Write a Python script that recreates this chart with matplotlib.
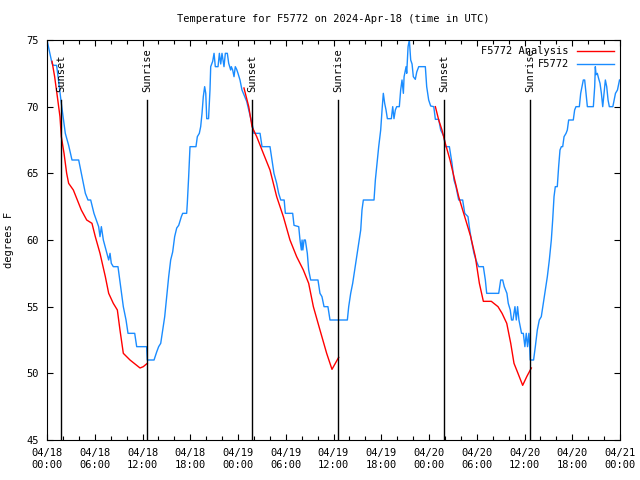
import matplotlib
matplotlib.use('Agg')

import matplotlib.pyplot as plt
import matplotlib.dates as mdates
import numpy as np
from datetime import datetime, timedelta

# hours since 2024-04-18 00:00 UTC
obs_hours = [0.0, 0.63, 0.8, 1.21, 1.8, 2.3, 2.72, 3.14, 3.98, 4.4, 4.82, 5.15, 5.49, 5.9, 6.49,
             6.66, 6.83, 7.08, 7.41, 7.75, 7.92, 8.08, 8.33, 8.92, 9.26, 9.59, 9.93, 10.18, 11.02,
             11.27, 12.52, 12.6, 13.45, 13.78, 14.03, 14.29, 14.54, 14.79, 15.04, 15.29, 15.54,
             15.79, 16.04, 16.3, 16.55, 16.88, 17.05, 17.55, 17.63, 17.8, 17.97, 18.72, 18.89,
             19.14, 19.31, 19.48, 19.64, 19.81, 19.95, 20.07, 20.3, 20.48, 20.57, 20.82, 20.99,
             21.15, 21.49, 21.66, 21.83, 21.99, 22.24, 22.41, 22.66, 22.83, 23.08, 23.16, 23.33,
             23.5, 23.66, 23.83, 24.0, 24.25, 24.5, 24.84, 25.09, 25.35, 25.6, 25.85, 26.0, 26.77,
             27.02, 28.02, 28.27, 28.52, 28.86, 29.11, 29.37, 29.8, 29.95, 30.87, 31.04, 31.63,
             31.79, 31.96, 32.05, 32.15, 32.3, 32.46, 32.71, 32.88, 33.13, 34.05, 34.3, 34.55,
             34.81, 35.3, 35.56, 37.74, 37.91, 38.16, 38.41, 38.66, 38.92, 39.17, 39.42, 39.58,
             39.75, 41.09, 41.26, 41.43, 41.68, 41.93, 42.1, 42.26, 42.43, 42.6, 42.77, 43.27,
             43.44, 43.6, 43.77, 43.94, 44.27, 44.44, 44.61, 44.78, 44.87, 45.12, 45.2, 45.37,
             45.53, 45.7, 45.87, 46.03, 46.28, 46.46, 46.71, 47.54, 47.71, 47.96, 48.21, 48.6,
             48.8, 49.22, 49.47, 49.88, 50.05, 50.56, 50.89, 51.14, 51.39, 51.73, 52.23, 52.49,
             52.9, 53.06, 53.32, 53.65, 53.9, 54.24, 54.83, 55.08, 55.25, 56.76, 57.01, 57.26,
             57.46, 57.79, 57.96, 58.21, 58.37, 58.55, 58.8, 58.97, 59.13, 59.3, 59.63, 59.85,
             60.05, 60.22, 60.38, 60.55, 60.63, 60.72, 61.14, 61.36, 61.61, 61.86, 62.11, 62.36,
             62.62, 62.87, 63.12, 63.37, 63.54, 63.71, 63.87, 64.12, 64.29, 64.46, 64.63, 64.8,
             64.97, 65.22, 65.38, 65.55, 66.13, 66.3, 66.47, 66.89, 67.06, 67.23, 67.39, 67.56,
             67.73, 67.9, 68.65, 68.82, 68.9, 68.99, 69.15, 69.32, 69.49, 69.66, 69.83, 70.0,
             70.16, 70.33, 70.5, 70.66, 71.1, 71.27, 71.43, 71.68, 71.94]
obs_temp = [75.0, 73.25, 73.1, 73.1, 70.25, 68.0, 67.1, 66.0, 66.0, 64.75, 63.5, 63.0, 63.0, 62.0, 61.0,
            60.25, 61.0, 60.0, 59.25, 58.5, 59.0, 58.25, 58.0, 58.0, 56.5, 55.0, 54.0, 53.0, 53.0,
            52.0, 52.0, 51.0, 51.0, 51.6, 52.0, 52.25, 53.25, 54.25, 55.75, 57.25, 58.5,
            59.1, 60.25, 60.9, 61.1, 61.75, 62.0, 62.0, 62.75, 64.75, 67.0, 67.0, 67.75,
            68.0, 68.5, 69.5, 70.75, 71.5, 71.0, 69.1, 69.1, 71.25, 73.0, 73.4, 74.0,
            73.0, 73.0, 74.0, 73.2, 74.0, 73.0, 74.0, 74.0, 73.25, 72.75, 73.0, 72.75,
            72.25, 73.0, 72.8, 72.5, 72.0, 71.25, 70.75, 70.4, 69.75, 69.1, 68.5, 68.0, 68.0,
            67.0, 67.0, 66.0, 65.0, 64.25, 63.5, 63.0, 63.0, 62.0, 62.0, 61.1, 61.0,
            60.0, 59.25, 60.0, 59.25, 60.0, 60.0, 59.0, 57.75, 57.0, 57.0, 56.0, 55.75,
            55.0, 55.0, 54.0, 54.0, 55.0, 56.0, 56.75, 57.75, 58.75, 59.75, 60.75, 62.25,
            63.0, 63.0, 64.5, 65.5, 67.0, 68.25, 69.75, 71.0, 70.25, 69.75, 69.1, 69.1,
            70.0, 69.1, 69.75, 70.0, 70.0, 71.25, 72.0, 71.0, 72.25, 73.0, 72.5, 74.5,
            75.0, 73.5, 73.2, 72.25, 72.05, 72.6, 73.0, 73.0, 71.5, 70.5, 70.05, 70.0,
            69.05, 69.05, 68.25, 67.75, 67.0, 67.0, 65.75, 64.5, 64.0, 63.0, 63.0, 62.0,
            61.75, 61.0, 60.0, 59.0, 58.5, 58.0, 58.0, 57.0, 56.0, 56.0, 57.0, 57.0,
            56.5, 56.0, 55.25, 54.75, 54.0, 54.0, 55.0, 54.0, 55.0, 54.0, 53.0, 53.0,
            52.0, 53.0, 52.0, 53.0, 52.25, 51.0, 51.0, 52.0, 53.25, 54.0, 54.25, 55.25,
            56.25, 57.25, 58.5, 60.0, 61.5, 63.25, 64.0, 64.0, 65.5, 66.75, 67.0, 67.0,
            67.75, 68.0, 68.25, 69.0, 69.0, 69.75, 70.0, 70.0, 71.0, 71.5, 72.0, 72.0,
            71.0, 70.0, 70.0, 71.5, 73.0, 72.4, 72.5, 72.1, 71.75, 71.0, 70.0, 71.0,
            72.0, 71.5, 70.5, 70.0, 70.0, 70.5, 71.0, 71.25, 72.0]

# analysis, one piece per night
ana1_hours = [0.63, 0.96, 1.3, 1.63, 1.8, 2.14, 2.47, 2.72, 3.31, 3.81, 4.31, 4.99, 5.65, 6.07,
              6.66, 7.33, 7.75, 8.33, 8.84, 9.17, 9.59, 10.43, 11.69, 12.1, 12.6]
ana1_temp = [73.4, 72.25, 70.75, 69.25, 67.75, 66.5, 65.0, 64.25, 63.75, 63.0, 62.25, 61.5, 61.25, 60.25,
             59.0, 57.25, 56.0, 55.25, 54.75, 53.25, 51.5, 51.0, 50.4, 50.5, 50.75]
ana2_hours = [24.75, 25.35, 25.76, 26.35, 27.18, 28.02, 28.86, 29.7, 30.53, 31.37, 32.21, 32.88,
              33.47, 34.3, 35.14, 35.81, 36.23, 36.65]
ana2_temp = [71.4, 70.0, 68.5, 67.75, 66.5, 65.25, 63.25, 61.75, 60.0, 58.75, 57.75, 56.75,
             55.0, 53.25, 51.5, 50.3, 50.75, 51.2]
ana3_hours = [48.8, 49.22, 49.63, 50.05, 50.64, 51.23, 51.73, 52.23, 52.74, 53.24, 53.82, 54.33,
              54.83, 55.83, 56.67, 57.18, 57.77, 58.27, 58.68, 59.18, 59.77, 60.28, 60.86]
ana3_temp = [70.0, 69.0, 68.25, 67.25, 66.0, 64.5, 63.25, 62.25, 61.25, 60.25, 58.75, 56.75,
             55.4, 55.4, 55.0, 54.5, 53.75, 52.25, 50.75, 50.0, 49.1, 49.75, 50.4]

sunset_hours = [1.8, 25.76, 49.93]
sunrise_hours = [12.6, 36.6, 60.74]

start = datetime(2024, 4, 18, 0, 0)

def to_time(hours):
    return [start + timedelta(hours=h) for h in hours]

plt.rcParams['font.family'] = 'DejaVu Sans Mono'
plt.rcParams['font.size'] = 7.5

fig = plt.figure(figsize=(6.4, 4.8), dpi=100)
ax = fig.add_axes([47 / 640, 40 / 480, 573 / 640, 400 / 480])

blue = '#1a8cff'
ax.plot(to_time(obs_hours), obs_temp, color=blue, lw=1.0, label='F5772')
first = True
for hh, tt in [(ana1_hours, ana1_temp), (ana2_hours, ana2_temp), (ana3_hours, ana3_temp)]:
    ax.plot(to_time(hh), tt, color='red', lw=1.0, label='F5772 Analysis' if first else None)
    first = False

for name, hrs in [('Sunset', sunset_hours), ('Sunrise', sunrise_hours)]:
    for t in to_time(hrs):
        ax.plot([t, t], [45, 70.5], color='black', lw=1.0)
        ax.text(t, 71.1, name, rotation=90, ha='center', va='bottom', fontsize=7.5)

ax.set_xlim(start, start + timedelta(hours=72))
ax.set_ylim(45, 75)
ax.set_yticks(np.arange(45, 76, 5))
ax.xaxis.set_major_locator(mdates.HourLocator(byhour=[0, 6, 12, 18]))
ax.xaxis.set_minor_locator(mdates.HourLocator(interval=2))
ax.xaxis.set_major_formatter(mdates.DateFormatter('%m/%d\n%H:%M'))
ax.tick_params(which='both', direction='in', top=True, right=True, width=0.8)
ax.tick_params(which='major', length=4.5, pad=6)
ax.tick_params(which='minor', length=3)
for s in ax.spines.values():
    s.set_linewidth(0.8)

ax.set_title('Temperature for F5772 on 2024-Apr-18 (time in UTC)', fontsize=7.5, pad=13)
ax.set_ylabel('degrees F', labelpad=9)

h, l = ax.get_legend_handles_labels()
ax.legend([h[1], h[0]], [l[1], l[0]], loc='upper right', frameon=False, markerfirst=False,
          handlelength=3.5, borderaxespad=0.2, labelspacing=0.3, fontsize=7.5)

plt.savefig('out.png', dpi=100)
